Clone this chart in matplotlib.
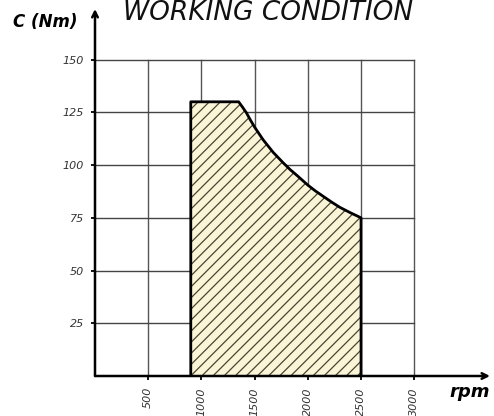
import numpy as np
import matplotlib
matplotlib.use("Agg")
import matplotlib.pyplot as plt

# torque envelope (rpm, Nm)
rpm = [900, 900, 1350, 1390, 1425, 1460, 1500, 1580, 1675, 1770, 1835,
       1900, 2000, 2075, 2150, 2225, 2300, 2400, 2500, 2500]
torque = [0, 130, 130, 127.2, 124.6, 121.4, 118, 112, 106, 101, 97.8,
          95, 90.5, 87.6, 85, 82.4, 80, 77.4, 75, 0]

x_ticks = [500, 1000, 1500, 2000, 2500, 3000]
y_ticks = [25, 50, 75, 100, 125, 150]

plt.rcParams['hatch.linewidth'] = 0.9

fig = plt.figure(figsize=(4.94, 4.16), dpi=100)
ax = fig.add_axes([95 / 494, 40 / 416, 395 / 494, 367 / 416])
ax.set_xlim(0, 3712)
ax.set_ylim(0, 174)
for s in ax.spines.values():
    s.set_visible(False)

# grid, only inside 0..3000 x 0..150
for xv in x_ticks:
    ax.plot([xv, xv], [0, 150], color='#555555', lw=1, zorder=1)
for yv in y_ticks:
    ax.plot([0, 3000], [yv, yv], color='#444444', lw=1, zorder=1)

# working area
ax.fill(rpm, torque, facecolor='#fbf5d8', edgecolor='#4a4434', hatch='///', lw=0, zorder=2)
ax.plot(rpm, torque, color='black', lw=2, zorder=3, solid_joinstyle='round')

# axes with arrows
ax.annotate('', xy=(3712, 0), xytext=(0, 0),
            arrowprops=dict(arrowstyle='->', lw=1.8, color='black', shrinkA=0, shrinkB=0),
            annotation_clip=False, zorder=4)
ax.annotate('', xy=(0, 174), xytext=(0, 0),
            arrowprops=dict(arrowstyle='->', lw=1.8, color='black', shrinkA=0, shrinkB=0),
            annotation_clip=False, zorder=4)

ax.set_xticks(x_ticks)
ax.set_yticks(y_ticks)
ax.set_xticklabels([str(v) for v in x_ticks], rotation=90, fontstyle='italic',
                   fontsize=8, color='#333333')
ax.set_yticklabels([str(v) for v in y_ticks], fontstyle='italic',
                   fontsize=8, color='#333333')
ax.tick_params(axis='both', direction='out', length=3, width=1.3, color='black')
ax.tick_params(axis='x', pad=5)
ax.tick_params(axis='y', pad=5)

fig.text(268 / 494, 1 - 20 / 416, 'WORKING CONDITION', ha='center', va='baseline',
         fontsize=19, fontstyle='italic', color='#111111')
fig.text(13 / 494, 1 - 27 / 416, 'C (Nm)', ha='left', va='baseline',
         fontsize=12, fontstyle='italic', fontweight='bold')
fig.text(490 / 494, 1 - 397 / 416, 'rpm', ha='right', va='baseline',
         fontsize=13, fontstyle='italic', fontweight='bold')

plt.savefig('out.png', dpi=100)
